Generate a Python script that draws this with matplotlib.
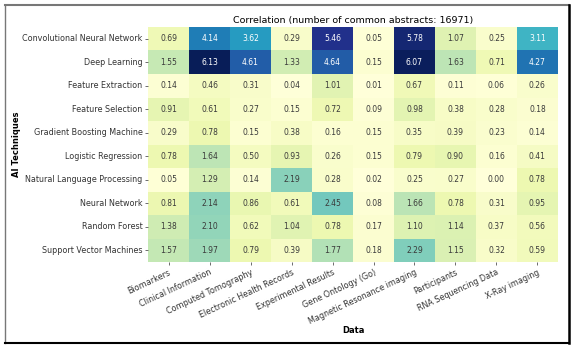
import matplotlib

matplotlib.use("Agg")
import matplotlib.pyplot as plt  # noqa: E402
import numpy as np  # noqa: E402
import seaborn as sns  # noqa: E402
from matplotlib.lines import Line2D  # noqa: E402

techniques = [
    "Convolutional Neural Network", "Deep Learning", "Feature Extraction",
    "Feature Selection", "Gradient Boosting Machine", "Logistic Regression",
    "Natural Language Processing", "Neural Network", "Random Forest",
    "Support Vector Machines",
]
data_types = [
    "Biomarkers", "Clinical Information", "Computed Tomography",
    "Electronic Health Records", "Experimental Results", "Gene Ontology (Go)",
    "Magnetic Resonance imaging", "Participants", "RNA Sequencing Data",
    "X-Ray imaging",
]

cnn = [0.69, 4.14, 3.62, 0.29, 5.46, 0.05, 5.78, 1.07, 0.25, 3.11]
deep = [1.55, 6.13, 4.61, 1.33, 4.64, 0.15, 6.07, 1.63, 0.71, 4.27]
feat_ext = [0.14, 0.46, 0.31, 0.04, 1.01, 0.01, 0.67, 0.11, 0.06, 0.26]
feat_sel = [0.91, 0.61, 0.27, 0.15, 0.72, 0.09, 0.98, 0.38, 0.28, 0.18]
gbm = [0.29, 0.78, 0.15, 0.38, 0.16, 0.15, 0.35, 0.39, 0.23, 0.14]
logreg = [0.78, 1.64, 0.50, 0.93, 0.26, 0.15, 0.79, 0.90, 0.16, 0.41]
nlp = [0.05, 1.29, 0.14, 2.19, 0.28, 0.02, 0.25, 0.27, 0.00, 0.78]
nn = [0.81, 2.14, 0.86, 0.61, 2.45, 0.08, 1.66, 0.78, 0.31, 0.95]
rf = [1.38, 2.10, 0.62, 1.04, 0.78, 0.17, 1.10, 1.14, 0.37, 0.56]
svm = [1.57, 1.97, 0.79, 0.39, 1.77, 0.18, 2.29, 1.15, 0.32, 0.59]

n_abstracts = 16971

values = np.array([cnn, deep, feat_ext, feat_sel, gbm, logreg, nlp, nn, rf, svm])

fig = plt.figure(figsize=(5.74, 3.5), dpi=100)
ax = fig.add_axes([0.258, 0.251, 0.714, 0.672])

sns.heatmap(values, ax=ax, cmap="YlGnBu", annot=True, fmt=".2f", cbar=False,
            annot_kws={"fontsize": 5.5},
            xticklabels=data_types, yticklabels=techniques)

# soften the dark annotation text a little (reference reads grey, not black)
for t in ax.texts:
    if t.get_color() in ("#262626", ".15", (0.15, 0.15, 0.15)):
        t.set_color("#3a3a3a")

ax.set_title(f"Correlation (number of common abstracts: {n_abstracts})",
             fontsize=6.8, pad=3)
ax.set_xlabel("Data", fontsize=6, fontweight="bold", labelpad=0)
ax.set_ylabel("AI Techniques", fontsize=6, fontweight="bold", labelpad=1)
ax.tick_params(axis="both", labelsize=5.8, length=2.5, width=0.6, pad=1.5,
               color="#555555")
plt.setp(ax.get_xticklabels(), rotation=25, ha="right", rotation_mode="anchor",
         color="#333333")
plt.setp(ax.get_yticklabels(), rotation=0, color="#333333")

# screenshot-style frame round the figure
fig.add_artist(Line2D([0.0087, 0.991], [0.986, 0.986], transform=fig.transFigure,
                      color="#777777", lw=1.5))
fig.add_artist(Line2D([0.0087, 0.0087], [0.02, 0.986], transform=fig.transFigure,
                      color="#777777", lw=1.0))
fig.add_artist(Line2D([0.0087, 0.991], [0.02, 0.02], transform=fig.transFigure,
                      color="black", lw=1.5))
fig.add_artist(Line2D([0.991, 0.991], [0.02, 0.986], transform=fig.transFigure,
                      color="black", lw=1.8))

fig.savefig("out.png", dpi=100)
